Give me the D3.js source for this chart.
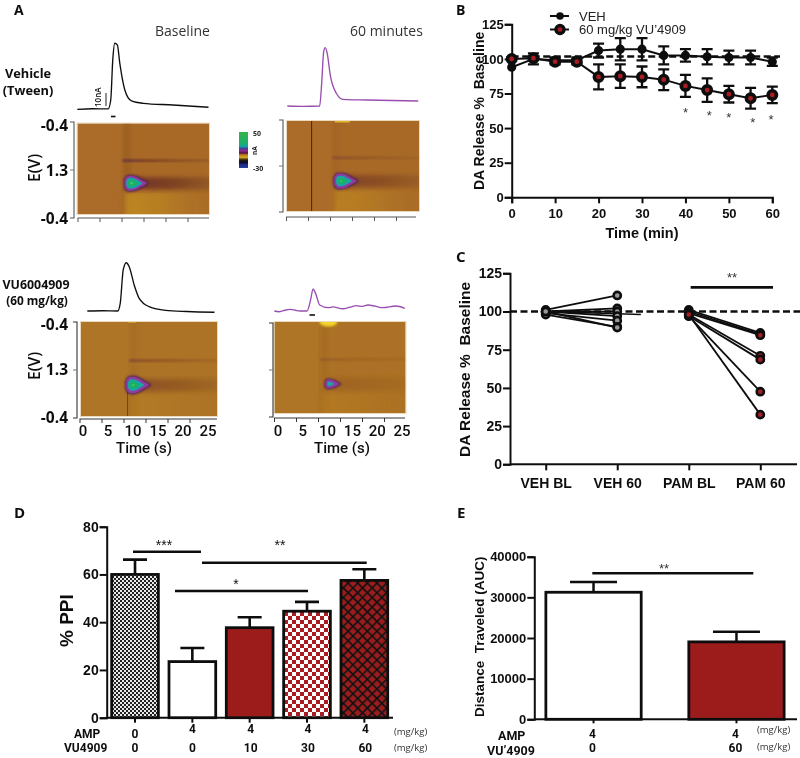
<!DOCTYPE html>
<html><head><meta charset="utf-8">
<script src="https://cdn.jsdelivr.net/npm/d3@7/dist/d3.min.js"></script>
<style>html,body{margin:0;padding:0;background:#fff}svg{display:block}</style>
</head><body><div id="c"></div>
<script>
// ---------- DATA ----------
const traceVehBaseT=[0,3,6.1,6.6,7.0,7.4,7.9,8.4,9.4,10.7,13,18.9,25.9];
const traceVehBaseI=[0,0.4,0.3,7.3,38.8,52,50.7,36,15,6.6,4.7,3.4,1.6];
const traceVeh60T=[0,3,6.4,6.8,7.2,7.5,7.9,8.5,9.7,11,15.7,25.9];
const traceVeh60I=[0,-.3,0,17.8,42.8,46,41.5,24.3,10,5.2,4.7,3.9];
const tracePamBaseT=[0,3,6.1,6.6,7.2,7.8,8.4,9.4,10.4,12.4,15.7,20,25.5];
const tracePamBaseI=[0,.2,0,6,32.3,38,34.9,20.5,10,3.4,.5,-.4,-1];
const tracePam60T=[0,.9,1.8,3.2,4.2,5.1,6.5,7.2,7.7,8.2,9,10.7,11.6,13.6,15,16.3,17.5,18.6,20,21.5,24.1,25.9];
const tracePam60I=[0,-.6,.3,1.3,.6,0,0,8.7,17.3,13.9,4.7,2.6,3.2,1.8,3,4.2,3.6,4.7,3.8,2.6,3.9,2.1];
const heatTicks=[0,5,10,15,20,25];
const heatPeakTime=[10.6,10.6,9.9,10.9];
const heatStimTime=[8.9,8.9,9.2,9.0];
const heatPeakScan=[.66,.667,.67,.68];
const heatPeakNA=[46,44,44,30];
const heatWidth=[5,5.1,5,3.4];
const heatHeight=[.187,.19,.2,.12];
const heatLineAlpha=[.75,.35,.45,.22];
const heatBandAlpha=[.7,.45,.35,.15];
const heatYellowAlpha=[.6,.45,.2,.2];
const contourLevels=[5,10,20,30,40];
const contourColors=['#552058','#8d3ea2','#17a7a0','#1bb060','#3cc76f'];
const dropU=[0,.03,.14,.32,.55,.78,1,.78,.55,.32,.14,.03];
const dropV=[0,-.58,-.94,-1,-.82,-.42,0,.42,.82,1,.94,.58];
const colorbarNA=[50,25,18,13,8,3,0,-6,-12,-17,-22,-30];
const colorbarCol=['#35b54a','#1fae6a','#14a3a0','#4a3a98','#8e2a8e','#5a1040','#a86a20','#e0b020','#2a2010','#0c0c20','#1a2a80','#2a3fa0'];

const timeB=[0,5,10,15,20,25,30,35,40,45,50,55,60];
const vehMean=[94,100,99,99,106,107,107,102.5,102.5,101.5,101,101,98];
const vehErr=[0,4,2,2,5,8,8,6.5,4.5,5.5,5,5,3];
const pamMean=[100,100.5,98,98,87,87.5,87,85,80.5,77.5,74.5,71.5,74];
const pamErr=[1,1,2,2,9,8.5,7.5,7.5,8,8.5,6,7.5,6];
const starB=[[40,63],[45.5,61],[50,59.5],[55.5,56],[59.7,58]];

const catC=['VEH BL','VEH 60','PAM BL','PAM 60'];
const vehBL=[101,100,99.5,100,99,98,100];
const veh60=[110.5,102,100,97,94,90,89.5];
const pamBL=[101,100,99,98,97,97,98];
const pam60=[86,85,84.5,71,68.5,47.5,32.5];
const extraC=[[0,100],[1.33,98]];

const amp=['0','4','4','4','4'];
const vu=['0','0','10','30','60'];
const ppiMean=[60,23.5,37.7,44.6,57.5];
const ppiTop=[66.2,29.2,42.1,48.5,62.2];
const ppiFill=['url(#pGray)','#fff','#9c1c1f','url(#pCheck)','url(#pLattice)'];

const ampE=['4','4'];
const vuE=['0','60'];
const aucMean=[31250,19050];
const aucTop=[33750,21550];
const aucFill=['#fff','#9c1c1f'];

// ---------- SETUP ----------
const W=800,H=758;
const svg=d3.select('#c').append('svg').attr('width',W).attr('height',H).attr('viewBox',`0 0 ${W} ${H}`);
const defs=svg.append('defs');
const blur=(id,s)=>defs.append('filter').attr('id',id).attr('x','-30%').attr('y','-30%').attr('width','160%').attr('height','160%')
  .append('feGaussianBlur').attr('stdDeviation',s);
blur('b05',.5);blur('b1',.9);blur('b2',2);blur('b4',4);blur('soft',.35);
const root=svg.append('g').attr('filter','url(#soft)');
const OS='"Open Sans",sans-serif',AR='"Liberation Sans",Arial,sans-serif',RB='Roboto,sans-serif';
function txt(g,x,y,s,o={}){
  const t=g.append('text').attr('x',x).attr('y',y).text(s)
    .attr('font-family',o.f||AR).attr('font-size',o.s||13).attr('font-weight',o.w||700)
    .attr('fill',o.c||'#111').attr('text-anchor',o.a||'start');
  if(o.r!=null)t.attr('transform',`rotate(${o.r} ${x} ${y})`);
  return t;
}
// patterns
const pg=defs.append('pattern').attr('id','pGray').attr('width',4).attr('height',4).attr('patternUnits','userSpaceOnUse');
pg.append('rect').attr('width',4).attr('height',4).attr('fill','#e8e8e8');
pg.append('rect').attr('width',2).attr('height',2).attr('fill','#222');
pg.append('rect').attr('x',2).attr('y',2).attr('width',2).attr('height',2).attr('fill','#222');
const pc=defs.append('pattern').attr('id','pCheck').attr('width',8).attr('height',8).attr('patternUnits','userSpaceOnUse');
pc.append('rect').attr('width',8).attr('height',8).attr('fill','#fff');
pc.append('rect').attr('width',4).attr('height',4).attr('fill','#a81c22');
pc.append('rect').attr('x',4).attr('y',4).attr('width',4).attr('height',4).attr('fill','#a81c22');
const pl=defs.append('pattern').attr('id','pLattice').attr('width',6.8).attr('height',6.8).attr('patternUnits','userSpaceOnUse').attr('patternTransform','rotate(45 364 600)');
pl.append('rect').attr('width',6.8).attr('height',6.8).attr('fill','#9c1c1f');
pl.append('path').attr('d','M0 0H6.8M0 0V6.8').attr('stroke','#111').attr('stroke-width',3.2);

function styleAxis(g,sw,col){
  g.selectAll('path.domain').attr('stroke',col||'#111').attr('stroke-width',sw);
  g.selectAll('.tick line').attr('stroke',col||'#111').attr('stroke-width',sw);
  return g;
}
function fontAxis(g,size,fam,w){
  g.selectAll('text').attr('font-family',fam||AR).attr('font-size',size).attr('font-weight',w||700).attr('fill','#111');
  return g;
}

// ---------- PANEL A ----------
txt(root,14,15,'A',{f:OS,s:14,w:700});
txt(root,155,36,'Baseline',{f:OS,s:14,w:400,c:'#333'});
txt(root,350,36,'60 minutes',{f:OS,s:14,w:400,c:'#333'});
txt(root,28,78,'Vehicle',{f:OS,s:12.8,w:700,a:'middle'});
txt(root,28,95,'(Tween)',{f:OS,s:12.8,w:700,a:'middle'});
txt(root,36,289,'VU6004909',{f:OS,s:12.4,w:700,a:'middle'});
txt(root,37,305,'(60 mg/kg)',{f:OS,s:11.8,w:700,a:'middle'});

const frames=[[77.5,209,123.5,214],[287,419,121,211],[81,217,322,416],[274.5,405.5,322,413]];
const axisX=[74,283,77,273];
const axisY=[[122,218],[120,212],[322,418],[323,417]];
const xAxisRow=[[218,77.5,209],[217,286,416],[419,79.5,217],[418,274,405]];
const tickLabelRange=[null,null,[83,208],[278,402]];
const traceRange=[[77.3,209],[287.3,418.7],[87.3,217],[274.3,405.3]];
const traceBase=[109.3,106,311,311];
const traceT=[traceVehBaseT,traceVeh60T,tracePamBaseT,tracePam60T];
const traceI=[traceVehBaseI,traceVeh60I,tracePamBaseI,tracePam60I];
const traceCol=['#111','#9a4db0','#111','#9a4db0'];
const dropCurve=d3.line().curve(d3.curveCardinalClosed.tension(.1));

const bandGrad=defs.append('linearGradient').attr('id','bandFade');
bandGrad.append('stop').attr('offset','0').attr('stop-color','#5e1f2c');
bandGrad.append('stop').attr('offset','.45').attr('stop-color','#6a3020');
bandGrad.append('stop').attr('offset','1').attr('stop-color','#7a4a20').attr('stop-opacity',.55);
const thinGrad=defs.append('linearGradient').attr('id','thinFade');
thinGrad.append('stop').attr('offset','0').attr('stop-color','#55204a');
thinGrad.append('stop').attr('offset','.3').attr('stop-color','#6e3020');
thinGrad.append('stop').attr('offset','1').attr('stop-color','#80501e').attr('stop-opacity',.6);
const yGrad=defs.append('linearGradient').attr('id','yellowFade');
yGrad.append('stop').attr('offset','0').attr('stop-color','#cf9a22');
yGrad.append('stop').attr('offset','.45').attr('stop-color','#c08a24');
yGrad.append('stop').attr('offset','1').attr('stop-color','#b47c25').attr('stop-opacity',.25);

frames.forEach((fr,i)=>{
  const [x0,x1,y0,y1]=fr;
  const xH=d3.scaleLinear().domain([0,26]).range([x0,x1]);
  const yH=d3.scaleLinear().domain([0,1]).range([y0,y1]);
  const clip=defs.append('clipPath').attr('id','clip'+i);
  clip.append('rect').attr('x',x0).attr('y',y0).attr('width',x1-x0).attr('height',y1-y0);
  root.append('rect').attr('x',x0-1).attr('y',y0-1).attr('width',x1-x0+2).attr('height',y1-y0+2).attr('fill','#ead9bb');
  const g=root.append('g').attr('clip-path',`url(#clip${i})`);
  const stim=xH(heatStimTime[i]), peakY=yH(heatPeakScan[i]);
  g.append('rect').attr('x',x0).attr('y',y0).attr('width',x1-x0).attr('height',y1-y0).attr('fill',i<2?'#ab6c29':'#ae7427');
  // slightly darker right-of-stimulus tone
  g.append('rect').attr('x',stim).attr('y',y0).attr('width',x1-stim).attr('height',y1-y0).attr('fill','#9c5f22').attr('opacity',i<2?.18:.08).attr('filter','url(#b1)');
  g.append('rect').attr('x',stim+1).attr('y',y0-3).attr('width',7).attr('height',y1-y0+3).attr('fill','#7d4c1c').attr('opacity',i==0?.25:.1).attr('filter','url(#b2)');
  // yellow lower zone
  g.append('rect').attr('x',stim+2).attr('y',peakY+9).attr('width',x1-stim).attr('height',y1-peakY).attr('fill','url(#yellowFade)').attr('opacity',heatYellowAlpha[i]).attr('filter','url(#b2)');
  // thin band
  g.append('rect').attr('x',stim).attr('y',yH(.41)-1.3).attr('width',x1-stim+4).attr('height',2.6).attr('fill','url(#thinFade)').attr('opacity',heatLineAlpha[i]).attr('filter','url(#b1)');
  // wide band
  g.append('rect').attr('x',stim+12).attr('y',peakY-6).attr('width',x1-stim).attr('height',12).attr('fill','url(#bandFade)').attr('opacity',heatBandAlpha[i]).attr('filter','url(#b2)');
  if(i==1){
    g.append('line').attr('x1',xH(4.85)).attr('x2',xH(4.85)).attr('y1',y0).attr('y2',y1).attr('stroke','#4e2410').attr('stroke-width',1);
    g.append('rect').attr('x',xH(9.4)).attr('y',y0-2).attr('width',15).attr('height',3.5).attr('fill','#e0b52c').attr('filter','url(#b05)');
  }
  if(i==2){
    g.append('line').attr('x1',xH(8.9)).attr('x2',xH(8.9)).attr('y1',y0+60).attr('y2',y1).attr('stroke','#7a4416').attr('stroke-width',1);
    g.append('rect').attr('x',xH(9)).attr('y',y0-1).attr('width',8).attr('height',2).attr('fill','#c99a2a').attr('filter','url(#b05)');
  }
  if(i==3){
    g.append('ellipse').attr('cx',xH(10.7)).attr('cy',y0).attr('rx',9).attr('ry',4.5).attr('fill','#f2d42a').attr('filter','url(#b1)');
  }
  // contour-like blob
  const cx=xH(heatPeakTime[i]);
  const w=heatWidth[i]*(x1-x0)/26, h=heatHeight[i]*(y1-y0)/2;
  const outline=dropU.map((u,k)=>[(u-.3)*w,dropV[k]*h]);
  contourLevels.forEach((lvl,k)=>{
    if(lvl>=heatPeakNA[i])return;
    const s=(heatPeakNA[i]-lvl)/(heatPeakNA[i]-contourLevels[0]);
    g.append('path').attr('transform',`translate(${cx},${peakY}) scale(${s})`)
      .attr('d',dropCurve(outline)).attr('fill',contourColors[k]).attr('filter',k?'url(#b05)':'url(#b1)');
  });
  // axes: potential axis
  const ya=root.append('g').attr('fill','none');
  const [ay0,ay1]=axisY[i];
  ya.append('path').attr('d',d3.line()([[axisX[i]-4,ay0],[axisX[i],ay0],[axisX[i],ay1],[axisX[i]-4,ay1]])).attr('stroke',i<2?'#555':'#333').attr('stroke-width',1.1);
  ya.append('line').attr('x1',axisX[i]-4).attr('x2',axisX[i]).attr('y1',(ay0+ay1)/2).attr('y2',(ay0+ay1)/2).attr('stroke','#777').attr('stroke-width',1);
  // time axis
  const [ry,rx0,rx1]=xAxisRow[i];
  const xA=d3.scaleLinear().domain([0,26]).range([rx0,rx0+26*4.4]);
  const gx=root.append('g').attr('transform',`translate(0,${ry})`).call(d3.axisBottom(xA).tickValues(heatTicks).tickSize(4).tickFormat(''));
  gx.select('path.domain').attr('d',`M${rx0},0H${rx1}`);
  styleAxis(gx,1,i<2?'#555':'#333');
  if(tickLabelRange[i]){
    const xL=d3.scaleLinear().domain([0,25]).range(tickLabelRange[i]);
    heatTicks.forEach(t=>txt(root,xL(t),436,String(t),{f:RB,s:15,w:500,a:'middle'}));
  }
  // traces
  const xT=d3.scaleLinear().domain([0,26]).range(traceRange[i]);
  const yT=d3.scaleLinear().domain([0,10]).range([traceBase[i],traceBase[i]-12.7]);
  root.append('path').datum(traceT[i].map((t,k)=>[t,traceI[i][k]]))
    .attr('d',d3.line().x(d=>xT(d[0])).y(d=>yT(d[1])).curve(d3.curveMonotoneX))
    .attr('fill','none').attr('stroke',traceCol[i]).attr('stroke-width',1.35);
});
// potential tick labels
[[131,'-0.4'],[176,'1.3'],[224,'-0.4']].forEach(d=>txt(root,68,d[0],d[1],{f:OS,s:15.5,w:700,a:'end'}));
[[330,'-0.4'],[375,'1.3'],[423,'-0.4']].forEach(d=>txt(root,68,d[0],d[1],{f:OS,s:15.5,w:700,a:'end'}));
txt(root,40,182,'E(V)',{f:OS,s:15.5,w:600,r:-90});
txt(root,40,380,'E(V)',{f:OS,s:15.5,w:600,r:-90});
txt(root,144,453,'Time (s)',{f:RB,s:15,w:500,a:'middle'});
txt(root,342,453,'Time (s)',{f:RB,s:15,w:500,a:'middle'});
// scale bar
root.append('line').attr('x1',106).attr('x2',106).attr('y1',93).attr('y2',106).attr('stroke','#222').attr('stroke-width',1);
txt(root,101,107,'10nA',{f:OS,s:8,w:600,r:-90});
root.append('line').attr('x1',111).attr('x2',115.5).attr('y1',116.5).attr('y2',116.5).attr('stroke','#111').attr('stroke-width',1.6);
root.append('line').attr('x1',309.5).attr('x2',315).attr('y1',315).attr('y2',315).attr('stroke','#111').attr('stroke-width',1.6);
// colorbar
const yBar=d3.scaleLinear().domain([50,-30]).range([132,168]);
const gb=defs.append('linearGradient').attr('id','cbar').attr('x1',0).attr('x2',0).attr('y1',0).attr('y2',1);
colorbarNA.forEach((v,k)=>gb.append('stop').attr('offset',(yBar(v)-132)/36).attr('stop-color',colorbarCol[k]));
root.append('rect').attr('x',239).attr('y',yBar(50)).attr('width',9).attr('height',yBar(-30)-yBar(50)).attr('fill','url(#cbar)');
txt(root,253,136,'50',{f:OS,s:7,w:700,c:'#222'});
txt(root,253,171,'-30',{f:OS,s:7,w:700,c:'#222'});
txt(root,257,155,'nA',{f:OS,s:6.5,w:700,c:'#222',r:-90});

// ---------- PANEL B ----------
txt(root,456,15,'B',{f:OS,s:14,w:700});
const xB=d3.scaleLinear().domain([0,60]).range([511.7,772.3]);
const yB=d3.scaleLinear().domain([0,125]).range([197.3,24.3]);
const gBy=root.append('g').attr('transform','translate(511.7,0)').call(d3.axisLeft(yB).tickValues([0,25,50,75,100,125]).tickSize(7).tickPadding(1));
styleAxis(gBy,2);fontAxis(gBy,13);
const gBx=root.append('g').attr('transform','translate(0,197.3)').call(d3.axisBottom(xB).tickValues([0,10,20,30,40,50,60]).tickSize(6).tickPadding(5));
styleAxis(gBx,2);fontAxis(gBx,13);
root.append('line').attr('x1',xB(0)).attr('x2',780).attr('y1',yB(101.7)).attr('y2',yB(101.7)).attr('stroke','#111').attr('stroke-width',2.5).attr('stroke-dasharray','7 3.5');
txt(root,484,190,'DA Release %  Baseline',{s:14,r:-90}).style('white-space','pre');
txt(root,642,238,'Time (min)',{s:14.5,a:'middle'});
function errs(g,xs,ys,es,x,y,cap,sw){
  xs.forEach((t,k)=>{
    if(!es[k])return;
    const X=x(t),a=y(ys[k]+es[k]),b=y(ys[k]-es[k]);
    g.append('path').attr('d',`M${X},${a}V${b}M${X-cap},${a}H${X+cap}M${X-cap},${b}H${X+cap}`).attr('stroke','#111').attr('stroke-width',sw).attr('fill','none');
  });
}
const lineB=d3.line().x(d=>xB(d[0])).y(d=>yB(d[1]));
[[vehMean,vehErr],[pamMean,pamErr]].forEach(([m,e],s)=>{
  errs(root,timeB,m,e,xB,yB,5.5,2.3);
  root.append('path').datum(timeB.map((t,k)=>[t,m[k]])).attr('d',lineB).attr('fill','none').attr('stroke','#111').attr('stroke-width',2);
  root.append('g').selectAll('circle').data(timeB).join('circle')
    .attr('cx',d=>xB(d)).attr('cy',(d,k)=>yB(m[k]))
    .attr('r',s?4.2:3.6).attr('fill',s?'#a81c22':'#111').attr('stroke','#111').attr('stroke-width',s?3.6:2);
});
starB.forEach(d=>txt(root,xB(d[0]),yB(d[1])+7,'*',{s:13,w:400,a:'middle',c:'#333'}));
// legend
[[16,'VEH',0],[29.5,'60 mg/kg VU\u20194909',1]].forEach(([y,s,r])=>{
  root.append('line').attr('x1',550).attr('x2',569).attr('y1',y).attr('y2',y).attr('stroke','#111').attr('stroke-width',2);
  root.append('circle').attr('cx',560).attr('cy',y).attr('r',r?4:3).attr('fill',r?'#a81c22':'#111').attr('stroke','#111').attr('stroke-width',r?3.4:1.5);
  txt(root,579,y+4.5,s,{s:13,w:400,c:'#222'});
});

// ---------- PANEL C ----------
txt(root,456,262,'C',{f:OS,s:15,w:700});
const xC=d3.scaleLinear().domain([0,3]).range([545.7,760.3]);
const yC=d3.scaleLinear().domain([0,125]).range([464.3,273.3]);
const gCy=root.append('g').attr('transform','translate(510,0)').call(d3.axisLeft(yC).tickValues([0,25,50,75,100,125]).tickSize(7).tickPadding(1));
styleAxis(gCy,2);fontAxis(gCy,14);
const gCx=root.append('g').attr('transform','translate(0,464.3)').call(d3.axisBottom(xC).tickValues([0,1,2,3]).tickSize(6).tickPadding(8).tickFormat(i=>catC[i]));
gCx.select('path.domain').attr('d','M510,0H797');
styleAxis(gCx,2);fontAxis(gCx,14);
root.append('line').attr('x1',510).attr('x2',800).attr('y1',yC(100)).attr('y2',yC(100)).attr('stroke','#111').attr('stroke-width',2.5).attr('stroke-dasharray','7 3.5');
txt(root,470,457,'DA Release %  Baseline',{s:15.5,r:-90}).style('white-space','pre');
root.append('path').datum(extraC).attr('d',d3.line().x(d=>xC(d[0])).y(d=>yC(d[1]))).attr('stroke','#111').attr('stroke-width',1.4).attr('fill','none');
[[vehBL,veh60,0,'#999'],[pamBL,pam60,2,'#a81c22']].forEach(([a,b,i0,col])=>{
  a.forEach((v,k)=>root.append('line').attr('x1',xC(i0)).attr('x2',xC(i0+1)).attr('y1',yC(v)).attr('y2',yC(b[k])).attr('stroke','#111').attr('stroke-width',1.8));
  [[a,i0],[b,i0+1]].forEach(([vals,ix])=>{
    root.append('g').selectAll('circle').data(vals).join('circle')
      .attr('cx',xC(ix)).attr('cy',d=>yC(d)).attr('r',3.6).attr('fill',col).attr('stroke','#111').attr('stroke-width',2.6);
  });
});
root.append('line').attr('x1',690.7).attr('x2',773).attr('y1',287.3).attr('y2',287.3).attr('stroke','#111').attr('stroke-width',2.8);
txt(root,732,282,'**',{s:13,w:400,a:'middle',c:'#333'});

// ---------- PANEL D ----------
txt(root,14,518,'D',{f:OS,s:15,w:700});
const idxD=d3.range(5);
const xD=d3.scaleBand().domain(idxD).range([106.35,393]).paddingInner(.185).paddingOuter(.0925);
const yD=d3.scaleLinear().domain([0,80]).range([717.7,526.7]);
const gDy=root.append('g').attr('transform','translate(106.7,0)').call(d3.axisLeft(yD).tickValues([0,20,40,60,80]).tickSize(7).tickPadding(1));
styleAxis(gDy,2);fontAxis(gDy,14);
const gDx=root.append('g').attr('transform','translate(0,717.7)').call(d3.axisBottom(xD).tickSize(5).tickFormat(''));
gDx.select('path.domain').attr('d','M106,0H393');
styleAxis(gDx,2);
idxD.forEach(k=>{
  const cx=xD(k)+xD.bandwidth()/2;
  root.append('path').attr('d',`M${cx},${yD(ppiMean[k])}V${yD(ppiTop[k])}M${cx-12},${yD(ppiTop[k])}H${cx+12}`).attr('stroke','#111').attr('stroke-width',2.6).attr('fill','none');
  root.append('rect').attr('x',xD(k)).attr('y',yD(ppiMean[k])).attr('width',xD.bandwidth()).attr('height',yD(0)-yD(ppiMean[k])).attr('fill',ppiFill[k]).attr('stroke','#111').attr('stroke-width',2.8);
  txt(root,cx+(k>1?1:0),k?733:738,amp[k],{f:RB,s:12,a:'middle'});
  txt(root,cx+(k>1?1:0),752,vu[k],{f:RB,s:12,a:'middle'});
});
[[133,201,551.7],[202,366.7,562.7],[175,308,591]].forEach(d=>root.append('line').attr('x1',d[0]).attr('x2',d[1]).attr('y1',d[2]).attr('y2',d[2]).attr('stroke','#111').attr('stroke-width',2.5));
txt(root,164,550,'***',{s:14,w:400,a:'middle'});
txt(root,280,550,'**',{s:14,w:400,a:'middle'});
txt(root,236,589,'*',{s:14,w:400,a:'middle'});
txt(root,73,647,'% PPI',{s:19,r:-90});
txt(root,74,738,'AMP',{f:RB,s:12});
txt(root,64,752,'VU4909',{f:RB,s:12});
txt(root,394,735,'(mg/kg)',{f:OS,s:9.5,w:400,c:'#333'});
txt(root,394,751,'(mg/kg)',{f:OS,s:9.5,w:400,c:'#333'});

// ---------- PANEL E ----------
txt(root,457,518,'E',{f:OS,s:15,w:700});
const xE=d3.scaleBand().domain([0,1]).range([534,796]).paddingInner(.333).paddingOuter(.083);
const yE=d3.scaleLinear().domain([0,40000]).range([719.3,556.7]);
const gEy=root.append('g').attr('transform','translate(534.3,0)').call(d3.axisLeft(yE).tickValues([0,10000,20000,30000,40000]).tickSize(7).tickPadding(1).tickFormat(d3.format('d')));
styleAxis(gEy,2);fontAxis(gEy,13);
const gEx=root.append('g').attr('transform','translate(0,719.3)').call(d3.axisBottom(xE).tickSize(4).tickFormat(''));
gEx.select('path.domain').attr('d','M534,0H797');
styleAxis(gEx,2);
[0,1].forEach(k=>{
  const cx=xE(k)+xE.bandwidth()/2;
  root.append('path').attr('d',`M${cx},${yE(aucMean[k])}V${yE(aucTop[k])}M${cx-23.5},${yE(aucTop[k])}H${cx+23.5}`).attr('stroke','#111').attr('stroke-width',2.5).attr('fill','none');
  root.append('rect').attr('x',xE(k)).attr('y',yE(aucMean[k])).attr('width',xE.bandwidth()).attr('height',yE(0)-yE(aucMean[k])).attr('fill',aucFill[k]).attr('stroke','#111').attr('stroke-width',2.8);
  txt(root,cx-1,737.5,ampE[k],{f:RB,s:12,a:'middle'});
  txt(root,cx-1,752,vuE[k],{f:RB,s:12,a:'middle'});
});
root.append('line').attr('x1',592.3).attr('x2',753.3).attr('y1',573.3).attr('y2',573.3).attr('stroke','#111').attr('stroke-width',2.5);
txt(root,664,573,'**',{s:13,w:400,a:'middle',c:'#333'});
txt(root,484,717,'Distance  Traveled (AUC)',{s:13.5,r:-90}).style('white-space','pre');
txt(root,498,740,'AMP',{f:RB,s:12.5});
txt(root,487,755,'VU\u20194909',{f:RB,s:12.5});
txt(root,757,733,'(mg/kg)',{f:OS,s:9.5,w:400,c:'#333'});
txt(root,757,750,'(mg/kg)',{f:OS,s:9.5,w:400,c:'#333'});
</script></body></html>
